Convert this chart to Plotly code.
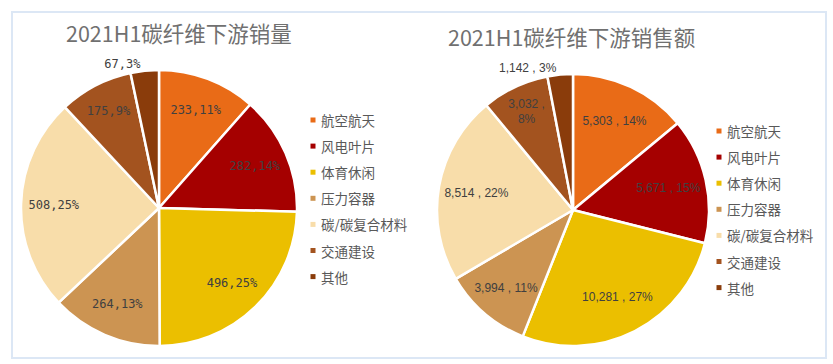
import plotly.graph_objects as go

W, H = 833, 364

categories = ["航空航天", "风电叶片", "体育休闲", "压力容器", "碳/碳复合材料", "交通建设", "其他"]
colors = ["#E96B17", "#A50000", "#EBBF00", "#CC9452", "#F8DDAA", "#A3531F", "#8A3C0B"]

volume_values = [233, 282, 496, 264, 508, 175, 67]
volume_pcts = [11, 14, 25, 13, 25, 9, 3]

sales_values = [5303, 5671, 10281, 3994, 8514, 3032, 1142]
sales_pcts = [14, 15, 27, 11, 22, 8, 3]

title_left = "2021H1碳纤维下游销量"
title_right = "2021H1碳纤维下游销售额"

vol_text = [f"{v},{p}%" for v, p in zip(volume_values, volume_pcts)]
sal_text = [f"{v:,} , {p}%" for v, p in zip(sales_values, sales_pcts)]
sal_text[5] = sal_text[5].replace(" , ", " ,<br>")
text_pos = ["inside"] * 6 + ["outside"]


def px_domain(cx, cy, r):
    return dict(x=[(cx - r) / W, (cx + r) / W], y=[1 - (cy + r) / H, 1 - (cy - r) / H])


left_dom = px_domain(159, 208, 138)
right_dom = px_domain(573, 210, 136)

fig = go.Figure()
for vals, dom, txt, fnt, hole in [
    (volume_values, left_dom, vol_text, dict(family="DejaVu Sans Mono", size=12, color="#404040"), 0.52),
    (sales_values, right_dom, sal_text, dict(family="Liberation Sans", size=12, color="#404040"), 0.44),
]:
    fig.add_trace(go.Pie(
        labels=categories, values=vals, domain=dom, sort=False, direction="clockwise",
        rotation=0, marker=dict(colors=colors, line=dict(color="white", width=2.5)),
        textinfo="none", showlegend=False,
    ))
    # transparent ring that only carries the data labels (places them near the rim)
    fig.add_trace(go.Pie(
        labels=categories, values=vals, domain=dom, sort=False, direction="clockwise",
        rotation=0, hole=hole, text=txt, textinfo="text", textposition=text_pos,
        insidetextorientation="horizontal",
        insidetextfont=fnt, outsidetextfont=fnt, textfont=fnt,
        marker=dict(colors=["rgba(0,0,0,0)"] * len(vals), line=dict(width=0)),
        hoverinfo="skip", showlegend=False,
    ))

annotations = [
    dict(text=title_left, x=179 / W, y=1 - 32 / H, xref="paper", yref="paper",
         showarrow=False, xanchor="center", yanchor="middle",
         font=dict(family="Noto Sans CJK SC", size=21.5, color="#707070")),
    dict(text=title_right, x=571 / W, y=1 - 37 / H, xref="paper", yref="paper",
         showarrow=False, xanchor="center", yanchor="middle",
         font=dict(family="Noto Sans CJK SC", size=21.5, color="#707070")),
]
shapes = [
    dict(type="rect", xref="paper", yref="paper", x0=12 / W, x1=826 / W,
         y0=1 - 358 / H, y1=1 - 12 / H, line=dict(color="#DCE7F5", width=2),
         fillcolor="rgba(0,0,0,0)", layer="below"),
]

for lx, ly0 in [(313, 120), (719, 131)]:
    for i, (cat, col) in enumerate(zip(categories, colors)):
        y = ly0 + i * 26.1
        shapes.append(dict(type="rect", xref="paper", yref="paper",
                           x0=(lx - 2.5) / W, x1=(lx + 2.5) / W,
                           y0=1 - (y + 2.5) / H, y1=1 - (y - 2.5) / H,
                           fillcolor=col, line=dict(width=0)))
        annotations.append(dict(text=cat, x=(lx + 6) / W, y=1 - y / H, xref="paper", yref="paper",
                                showarrow=False, xanchor="left", yanchor="middle",
                                font=dict(family="Noto Sans CJK SC", size=13.5, color="#595959")))

fig.update_layout(
    width=W, height=H, margin=dict(l=0, r=0, t=0, b=0),
    paper_bgcolor="white", plot_bgcolor="white",
    annotations=annotations, shapes=shapes,
)
fig.write_html("out.html", config={"displayModeBar": False},
               post_script="document.body.style.margin='0';document.body.style.overflow='hidden';")
